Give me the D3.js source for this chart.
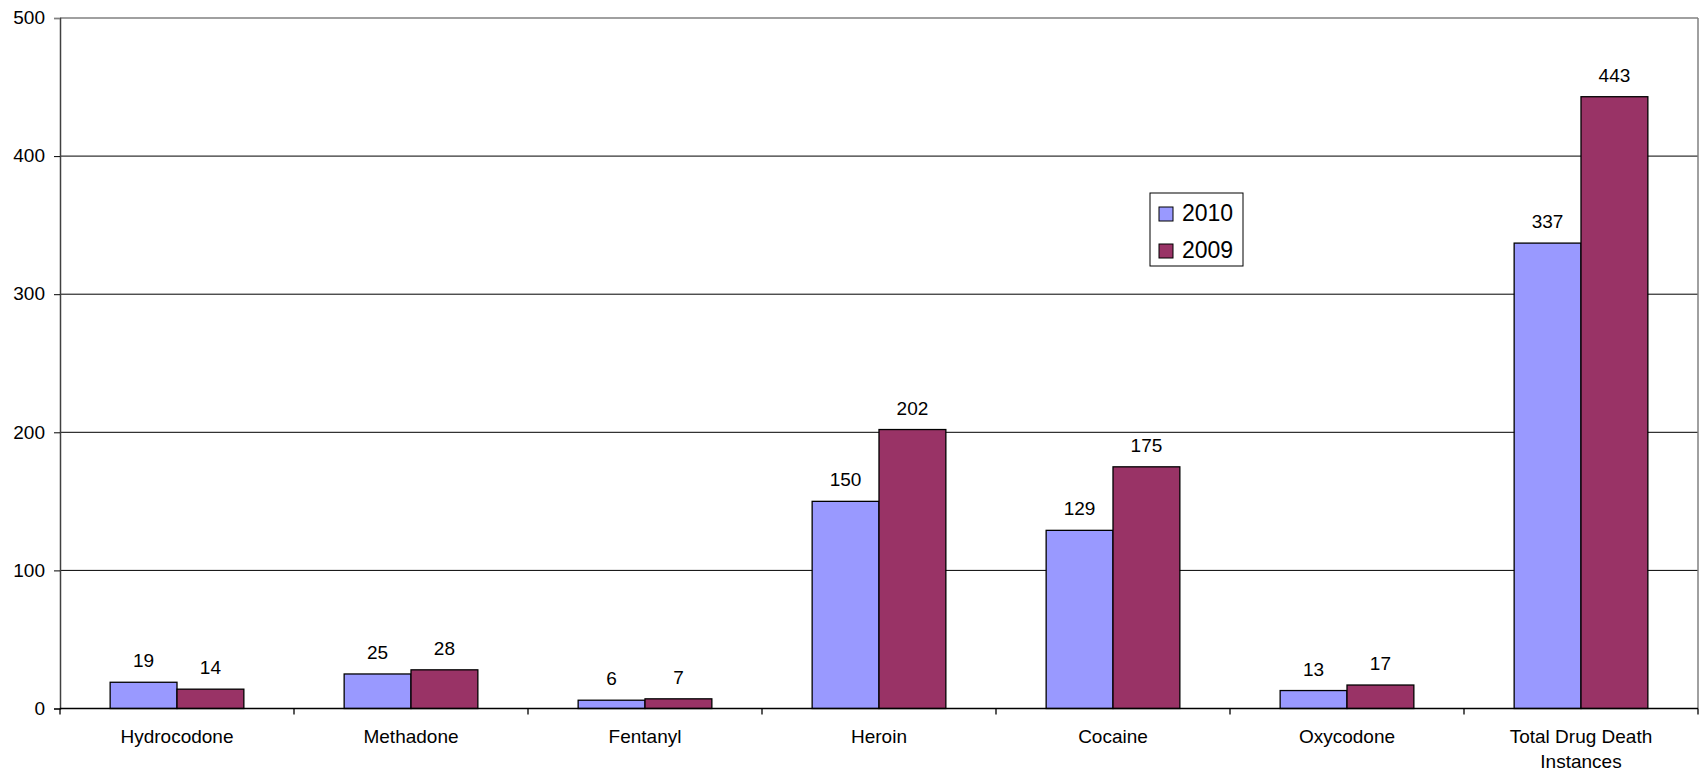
<!DOCTYPE html>
<html><head><meta charset="utf-8">
<script src="https://cdn.jsdelivr.net/npm/d3@7"></script>
<style>body{margin:0;background:#fff}svg{display:block}text{font-family:"Liberation Sans",Arial,sans-serif;fill:#000}</style>
</head><body>
<svg id="chart" width="1703" height="771"></svg>
<script>
const categories = ["Hydrocodone","Methadone","Fentanyl","Heroin","Cocaine","Oxycodone","Total Drug Death Instances"];
const series = ["2010","2009"];
const values2010 = [19,25,6,150,129,13,337];
const values2009 = [14,28,7,202,175,17,443];
const yTicks = [0,100,200,300,400,500];
const colors = ["#9999FF","#993366"];

const svg = d3.select("#chart");
const L = 60, R = 1698, T = 18, B = 708.5;
const x = d3.scaleBand().domain(categories).range([L, R]).paddingInner(0).paddingOuter(0);
const barW = x.bandwidth() / 3.5;
const x1 = d3.scaleBand().domain(series).range([0, barW * 2]);
const groupOff = (x.bandwidth() - barW * 2) / 2;
const y = d3.scaleLinear().domain([0, 500]).range([B, T]);

// gridlines
svg.append("g").selectAll("line").data(yTicks.filter(v => v > 0 && v < 500)).join("line")
  .attr("x1", L).attr("x2", R).attr("y1", d => y(d)).attr("y2", d => y(d))
  .attr("stroke", "#000").attr("stroke-width", 1);
// top & right border
svg.append("line").attr("x1", L).attr("x2", R).attr("y1", T).attr("y2", T).attr("stroke", "#808080").attr("stroke-width", 1.5);
svg.append("line").attr("x1", R).attr("x2", R).attr("y1", T).attr("y2", B).attr("stroke", "#808080").attr("stroke-width", 1.5);

// bars
const data = categories.map((c, i) => ({c, vals: [values2010[i], values2009[i]]}));
const g = svg.append("g").selectAll("g").data(data).join("g")
  .attr("transform", d => `translate(${x(d.c) + groupOff},0)`);
g.selectAll("rect").data(d => d.vals.map((v, j) => ({s: series[j], v, j}))).join("rect")
  .attr("x", d => x1(d.s)).attr("width", x1.bandwidth())
  .attr("y", d => y(d.v)).attr("height", d => y(0) - y(d.v))
  .attr("fill", d => colors[d.j]).attr("stroke", "#000").attr("stroke-width", 1.3);
g.selectAll("text").data(d => d.vals.map((v, j) => ({s: series[j], v, j}))).join("text")
  .attr("x", d => x1(d.s) + x1.bandwidth() / 2).attr("y", d => y(d.v) - 15)
  .attr("text-anchor", "middle").attr("font-size", 19).text(d => d.v);

// y axis
const ya = svg.append("g").attr("transform", `translate(${L},0)`)
  .call(d3.axisLeft(y).tickValues(yTicks).tickSize(6).tickPadding(9));
ya.select(".domain").attr("stroke", "#404040").attr("stroke-width", 1.5);
ya.selectAll(".tick line").attr("stroke", "#000");
ya.selectAll(".tick text").attr("font-size", 19).attr("font-family", "Liberation Sans, Arial, sans-serif").attr("fill", "#000").attr("dy", "0.3em");
ya.selectAll(".tick").filter(d => d === 500).select("line").attr("stroke", "#808080");

// x axis baseline
svg.append("line").attr("x1", L).attr("x2", R).attr("y1", B).attr("y2", B).attr("stroke", "#000").attr("stroke-width", 1.5);
// x ticks at category boundaries
const bounds = categories.map(c => x(c)).concat([R]);
svg.append("g").selectAll("line").data(bounds).join("line")
  .attr("x1", d => d).attr("x2", d => d).attr("y1", B).attr("y2", B + 6)
  .attr("stroke", "#000").attr("stroke-width", 1.3);
// x labels
const lab = svg.append("g").selectAll("text").data(categories).join("text")
  .attr("x", d => x(d) + x.bandwidth() / 2).attr("y", 743)
  .attr("text-anchor", "middle").attr("font-size", 19);
lab.each(function(d) {
  const t = d3.select(this);
  if (d === "Total Drug Death Instances") {
    t.append("tspan").attr("x", x(d) + x.bandwidth() / 2).attr("dy", 0).text("Total Drug Death");
    t.append("tspan").attr("x", x(d) + x.bandwidth() / 2).attr("dy", 25).text("Instances");
  } else t.text(d);
});

// legend
const lg = svg.append("g");
lg.append("rect").attr("x", 1150).attr("y", 193).attr("width", 93).attr("height", 73)
  .attr("fill", "#fff").attr("stroke", "#000").attr("stroke-width", 1);
series.forEach((s, i) => {
  const yy = 207 + i * 37;
  lg.append("rect").attr("x", 1159).attr("y", yy).attr("width", 14).attr("height", 14)
    .attr("fill", colors[i]).attr("stroke", "#000").attr("stroke-width", 1);
  lg.append("text").attr("x", 1182).attr("y", yy + 14).attr("font-size", 23).text(s);
});
</script>
</body></html>
